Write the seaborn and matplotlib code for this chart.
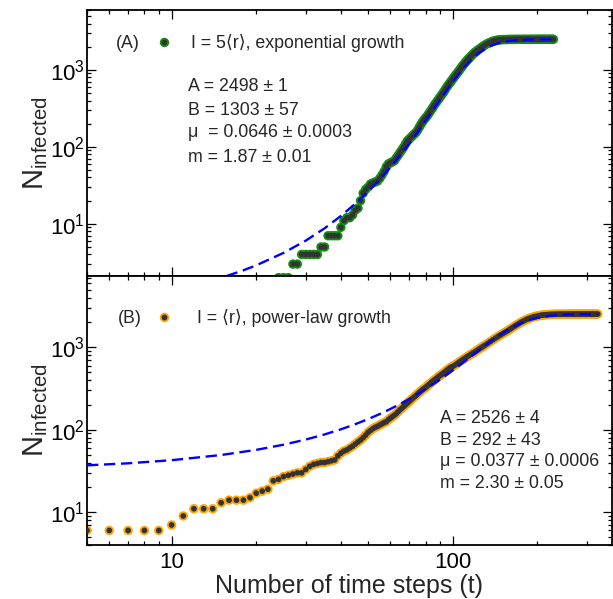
import matplotlib
matplotlib.use("Agg")
import matplotlib.pyplot as plt
import seaborn as sns
import pandas as pd
from matplotlib.lines import Line2D
from matplotlib.legend_handler import HandlerTuple
from matplotlib.ticker import FixedLocator, FixedFormatter, NullFormatter, LogLocator

# ---------------- data ----------------
# Panel A: I = 5<r>, exponential growth (integer time steps)
t_a = [*range(24, 121), *range(122, 229, 2)]
n_a = [2, 2, 2, 3, 3, 4, 4, 4, 4, 4,
       5, 5, 7, 7, 7, 7, 9, 11, 12, 12,
       13, 15, 16, 20, 25, 28, 30, 33, 34, 35,
       36, 39, 43, 48, 55, 60, 62, 64, 66, 72,
       78, 85, 92, 100, 110, 120, 126, 133, 140, 147,
       154, 165, 180, 195, 210, 225, 238, 250, 268, 285,
       305, 325, 350, 370, 392, 415, 440, 465, 492, 520,
       555, 590, 625, 655, 690, 725, 760, 800, 840, 880,
       920, 965, 1010, 1060, 1110, 1160, 1210, 1260, 1310, 1355,
       1400, 1450, 1500, 1550, 1600, 1650, 1700,
       1780, 1860, 1940, 2020, 2100, 2170, 2230, 2290, 2340, 2380,
       2410, 2435, 2455, 2465, 2472, 2476, 2480, 2483, 2486, 2488,
       2489, 2490, 2491, 2492, 2493, 2494, 2494, 2495, 2495, 2495,
       2496, 2496, 2496, 2496, 2497, 2497, 2497, 2497, 2497, 2497,
       2498, 2498, 2498, 2498, 2498, 2498, 2498, 2498, 2498, 2498,
       2498, 2498, 2498, 2498]

# fitted curve for panel A
fit_a_t = [12, 14, 16, 18, 20, 25, 30, 35, 40, 45, 50, 55, 60, 65, 70, 75, 80, 85,
           90, 95, 100, 105, 110, 115, 120, 125, 130, 135, 140, 145, 150, 160, 170,
           180, 190, 200, 228]
fit_a_n = [1.60, 1.85, 2.15, 2.49, 2.89, 4.19, 6.05, 8.75, 12.65, 18.25, 26.3, 37.8,
           54.2, 77.3, 109.8, 154.7, 215.7, 297.2, 403.0, 535.9, 696.2, 880.8, 1083,
           1293, 1498, 1689, 1858, 2002, 2119, 2212, 2285, 2382, 2436, 2465, 2480,
           2489, 2496]

# Panel B: I = <r>, power-law growth
t_b = [*range(5, 101), *range(102, 131, 2), *range(133, 329, 3)]
n_b = [6, 6, 6, 6, 6, 7, 9, 11, 11, 11,
       13, 14, 14, 14, 15, 17, 18, 19, 24, 25,
       27, 28, 29, 30, 30, 33, 36, 38, 39, 40,
       40, 41, 42, 43, 48, 52, 55, 57, 60, 63,
       67, 71, 75, 80, 86, 93, 98, 103, 107, 110,
       114, 118, 122, 125, 132, 138, 144, 150, 157, 166,
       175, 183, 192, 201, 210, 220, 230, 240, 250, 260,
       272, 283, 294, 305, 315, 325, 337, 350, 362, 375,
       388, 400, 412, 425, 440, 452, 465, 478, 490, 505,
       520, 535, 550, 565, 575, 585,
       610, 640, 670, 700, 730, 760, 790, 820, 850, 880,
       915, 950, 985, 1020, 1055,
       1110, 1170, 1230, 1290, 1350, 1410, 1470, 1530, 1590, 1660,
       1730, 1800, 1870, 1940, 2010, 2070, 2130, 2185, 2235, 2280,
       2320, 2355, 2385, 2410, 2430, 2448, 2462, 2474, 2484, 2492,
       2498, 2503, 2507, 2510, 2512, 2514, 2516, 2517, 2518, 2519,
       2520, 2520, 2521, 2521, 2522, 2522, 2522, 2523, 2523, 2523,
       2524, 2524, 2524, 2524, 2525, 2525, 2525, 2525, 2525, 2526,
       2526, 2526, 2526, 2526, 2526, 2526]

fit_b_t = [5, 7, 10, 15, 20, 25, 30, 35, 40, 45, 50, 55, 60, 65, 70, 75, 80, 85, 90,
           95, 100, 110, 120, 130, 140, 150, 160, 170, 180, 190, 200, 220, 240, 260,
           290, 328]
fit_b_n = [36.95, 39.13, 42.68, 49.31, 56.94, 65.75, 75.9, 87.6, 101.05, 116.6, 134.4,
           154.8, 178.2, 204.9, 235.5, 270.3, 309.7, 354.4, 404.6, 461.0, 523.7, 669.7,
           842.7, 1039.4, 1252.1, 1469.6, 1678.6, 1867.5, 2028.6, 2159.3, 2260.7,
           2392.7, 2461, 2495, 2516, 2524]

label_a = "I = 5\u27e8r\u27e9, exponential growth"
label_b = "I = \u27e8r\u27e9, power-law growth"
params_a = ["A = 2498 \u00b1 1", "B = 1303 \u00b1 57", "\u03bc  = 0.0646 \u00b1 0.0003", "m = 1.87 \u00b1 0.01"]
params_b = ["A = 2526 \u00b1 4", "B = 292 \u00b1 43", "\u03bc = 0.0377 \u00b1 0.0006", "m = 2.30 \u00b1 0.05"]
x_tick_vals = [10, 100]
x_tick_labels = ["10", "100"]

# ---------------- style ----------------
sns.set_theme(style="ticks")
plt.rcParams["font.family"] = ["Liberation Sans", "DejaVu Sans"]
plt.rcParams["mathtext.fontset"] = "custom"
plt.rcParams["mathtext.rm"] = "Liberation Sans"
plt.rcParams["mathtext.it"] = "Liberation Sans:italic"
plt.rcParams["axes.linewidth"] = 1.3
plt.rcParams["axes.edgecolor"] = "black"

GREEN = "#138f13"
ORANGE = "#ffa500"
INNER = "#333333"
BLUE = "#0000ff"

W, H = 613, 599
fig = plt.figure(figsize=(W / 100, H / 100), dpi=100)
axA = fig.add_axes([87 / W, 1 - 276 / H, 524.5 / W, 266 / H])
axB = fig.add_axes([87 / W, 1 - 545 / H, 524.5 / W, 269 / H])

dfa = pd.DataFrame({"t": t_a, "N": n_a})
dfb = pd.DataFrame({"t": t_b, "N": n_b})
fa = pd.DataFrame({"t": fit_a_t, "N": fit_a_n})
fb = pd.DataFrame({"t": fit_b_t, "N": fit_b_n})

for ax, df, fit, col in [(axA, dfa, fa, GREEN), (axB, dfb, fb, ORANGE)]:
    ax.set_xscale("log")
    ax.set_yscale("log")
    sns.scatterplot(data=df, x="t", y="N", ax=ax, s=46, color=col,
                    edgecolor="none", linewidth=0, zorder=2)
    sns.scatterplot(data=df, x="t", y="N", ax=ax, s=17, color=INNER,
                    edgecolor="none", linewidth=0, zorder=3)
    sns.lineplot(data=fit, x="t", y="N", ax=ax, color=BLUE, lw=1.7,
                 estimator=None, sort=False, zorder=4,
                 linestyle=(0, (4.8, 2.4)))
    ax.set_xlim(5, 367)
    ax.xaxis.set_major_locator(FixedLocator(x_tick_vals))
    ax.xaxis.set_major_formatter(FixedFormatter(x_tick_labels))
    ax.xaxis.set_minor_locator(LogLocator(base=10, subs=range(2, 10), numticks=20))
    ax.xaxis.set_minor_formatter(NullFormatter())
    ax.yaxis.set_major_locator(LogLocator(base=10, numticks=10))
    ax.yaxis.set_minor_locator(LogLocator(base=10, subs=range(2, 10), numticks=20))
    ax.yaxis.set_minor_formatter(NullFormatter())
    ax.tick_params(which="both", direction="in", top=True, right=True,
                   width=0.9, colors="black", labelsize=16)
    ax.tick_params(which="major", length=6.5)
    ax.tick_params(which="minor", length=3.2)
    ax.tick_params(axis="y", pad=1.5)
    ax.tick_params(axis="x", pad=5)
    ax.set_ylabel(r"$\mathregular{N_{infected}}$", fontsize=21, labelpad=0)
    ax.set_xlabel("")

axA.set_ylim(2.1, 6000)
axB.set_ylim(4, 7300)
axA.tick_params(labelbottom=False)
axB.set_xlabel("Number of time steps (t)", fontsize=18, labelpad=1)

hmap = {tuple: HandlerTuple(ndivide=1, pad=0)}
for ax, col, lab, tag, (tx, ty), hx, tpad in [
        (axA, GREEN, label_a, "(A)", (0.0553, 0.875), 0.130, 1.0),
        (axB, ORANGE, label_b, "(B)", (0.059, 0.843), 0.129, 1.4)]:
    h = (Line2D([], [], ls="none", marker="o", ms=6.8, mfc=col, mec="none"),
         Line2D([], [], ls="none", marker="o", ms=4.2, mfc=INNER, mec="none"))
    ax.legend([h], [lab], handler_map=hmap, loc="center left",
              bbox_to_anchor=(hx, ty), frameon=False, fontsize=12.8,
              handlelength=1.0, handletextpad=tpad, borderpad=0,
              borderaxespad=0)
    ax.text(tx, ty, tag, transform=ax.transAxes, ha="left", va="center",
            fontsize=12.8)

for s, y in zip(params_a, [0.714, 0.624, 0.538, 0.447]):
    axA.text(0.192, y, s, transform=axA.transAxes, ha="left", va="center",
             fontsize=12.8)
for s, y in zip(params_b, [0.471, 0.390, 0.310, 0.229]):
    axB.text(0.673, y, s, transform=axB.transAxes, ha="left", va="center",
             fontsize=12.8)

fig.savefig("out.png", dpi=100)
